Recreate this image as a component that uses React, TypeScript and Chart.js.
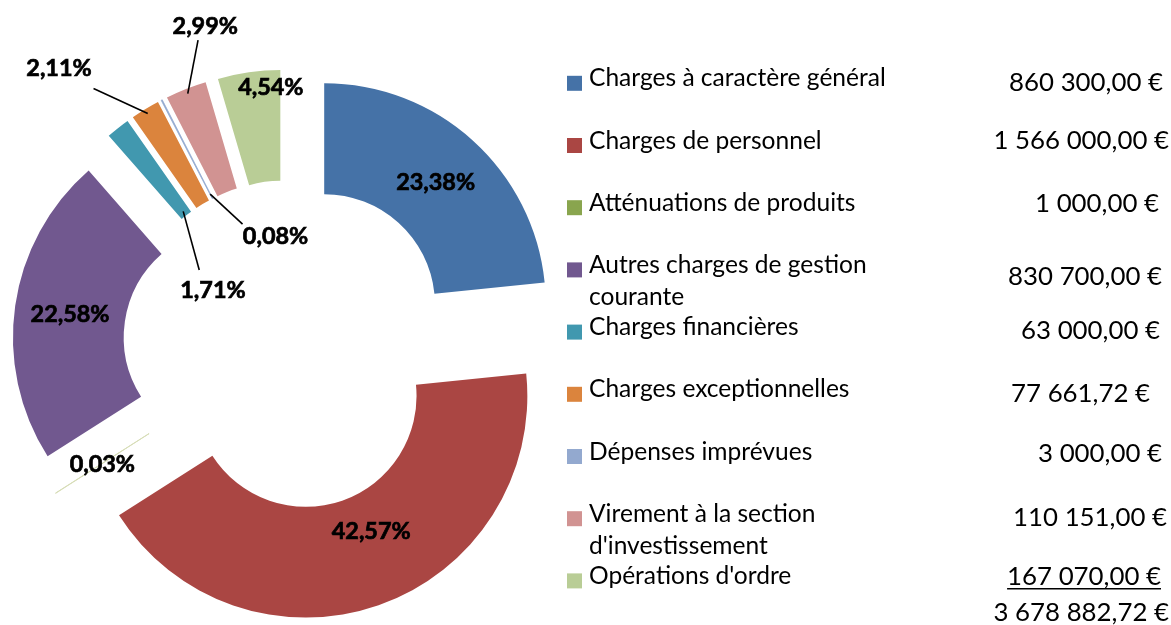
import React, { useEffect, useRef } from "react";
import { Chart, registerables } from "chart.js";

Chart.register(...registerables);

// ---------- data ----------
const categories = [
  "Charges à caractère général",
  "Charges de personnel",
  "Atténuations de produits",
  "Autres charges de gestion courante",
  "Charges financières",
  "Charges exceptionnelles",
  "Dépenses imprévues",
  "Virement à la section d'investissement",
  "Opérations d'ordre",
];
const legendLines = [
  ["Charges à caractère général"],
  ["Charges de personnel"],
  ["Atténuations de produits"],
  ["Autres charges de gestion", "courante"],
  ["Charges financières"],
  ["Charges exceptionnelles"],
  ["Dépenses imprévues"],
  ["Virement à la section", "d'investissement"],
  ["Opérations d'ordre"],
];
const amounts = [860300, 1566000, 1000, 830700, 63000, 77661.72, 3000, 110151, 167070];
const colors = [
  "#4572A7",
  "#AA4643",
  "#89A54E",
  "#71588F",
  "#4198AF",
  "#DB843D",
  "#93A9CF",
  "#D19392",
  "#B9CD96",
];

// ---------- layout / style ----------
const EXPLODE = 54;
const FONT = "Lato, 'Noto Sans', sans-serif";
// label placement: null = centre of the ring segment; otherwise polar from chart centre
const labelPlacement: any[] = [
  null,
  { r: 203, deg: 155.8 },
  null,
  null,
  { r: 93.6, deg: 306.7, edge: "inner", dx: -13.7, dy: -19 },
  { r: 360, deg: 320.5, edge: "outer", dx: 34.5, dy: 21.3 },
  { r: 110, deg: 353.5, edge: "inner", dx: -33, dy: -11.5 },
  { r: 330.5, deg: 345.5, edge: "outer", dx: -7.2, dy: 15 },
  { r: 259, deg: 356.2 },
];
const legendSquareX = 567;
const legendTextX = 589;
const legendFirstY = 77.3;
const legendRowStep = 62.2;
const legendLineStep = 32;
const amountRight = [1163, 1169, 1159, 1162, 1160, 1150, 1162, 1167, 1161];
const amountY = [81.7, 140, 203.3, 276, 330, 392.7, 453.3, 516.7, 576];
const totalRight = 1169;
const totalY = 611.7;

const total = amounts.reduce((a, b) => a + b, 0);

function fmtPct(v: number) {
  return ((v / total) * 100).toFixed(2).replace(".", ",") + "%";
}
function fmtEuro(v: number) {
  const [i, d] = v.toFixed(2).split(".");
  return i.replace(/\B(?=(\d{3})+(?!\d))/g, " ") + "," + d + " €";
}
function fitSize(ctx: CanvasRenderingContext2D, weight: string, text: string, targetW: number, targetH: number) {
  ctx.font = `${weight} 20px ${FONT}`;
  const m = ctx.measureText(text);
  const sw = (20 * targetW) / m.width;
  const sh = (20 * targetH) / ctx.measureText("0").actualBoundingBoxAscent;
  return Math.max(sw, sh);
}

const explodePlugin = {
  id: "explode",
  beforeDatasetDraw(chart: any, args: any) {
    const ctx = chart.ctx;
    args.meta.data.forEach((el: any) => {
      const mid = (el.startAngle + el.endAngle) / 2;
      ctx.save();
      ctx.translate(Math.cos(mid) * EXPLODE, Math.sin(mid) * EXPLODE);
      el.draw(ctx, chart.chartArea);
      ctx.restore();
    });
    return false;
  },
};

const labelPlugin = {
  id: "labels",
  afterDatasetsDraw(chart: any) {
    const ctx: CanvasRenderingContext2D = chart.ctx;
    const meta = chart.getDatasetMeta(0);
    const pctSize = fitSize(ctx, "bold", "23,38%", 79, 15.7);
    ctx.save();
    ctx.font = `bold ${pctSize}px ${FONT}`;
    const digitAsc = ctx.measureText("0").actualBoundingBoxAscent;
    ctx.fillStyle = "#000";
    ctx.strokeStyle = "#000";
    ctx.textAlign = "center";
    ctx.textBaseline = "alphabetic";
    meta.data.forEach((el: any, i: number) => {
      const mid = (el.startAngle + el.endAngle) / 2;
      const vx = el.x + Math.cos(mid) * EXPLODE;
      const vy = el.y + Math.sin(mid) * EXPLODE;
      const p = labelPlacement[i];
      let lx: number, ly: number;
      if (!p) {
        const rm = (el.innerRadius + el.outerRadius) / 2;
        lx = vx + Math.cos(mid) * rm;
        ly = vy + Math.sin(mid) * rm;
      } else {
        const a = (p.deg * Math.PI) / 180;
        lx = el.x + Math.sin(a) * p.r;
        ly = el.y - Math.cos(a) * p.r;
        if (p.edge) {
          const re = p.edge === "outer" ? el.outerRadius - 5 : el.innerRadius + 5;
          ctx.lineWidth = 1.6;
          ctx.beginPath();
          ctx.moveTo(vx + Math.cos(mid) * re, vy + Math.sin(mid) * re);
          ctx.lineTo(lx + p.dx, ly + p.dy);
          ctx.stroke();
        }
      }
      const txt = fmtPct(amounts[i]);
      ctx.fillText(txt, lx, ly + digitAsc / 2);
      ctx.lineWidth = 0.7;
      ctx.strokeText(txt, lx, ly + digitAsc / 2);
    });
    ctx.restore();
  },
  afterDraw(chart: any) {
    const ctx: CanvasRenderingContext2D = chart.ctx;
    ctx.font = `20px ${FONT}`;
    const legSize = (20 * 297) / ctx.measureText("Charges à caractère général").width;
    const amtSize = (20 * 154) / ctx.measureText("860 300,00 €").width;
    ctx.save();
    ctx.fillStyle = "#000";
    ctx.textBaseline = "alphabetic";
    ctx.font = `${legSize}px ${FONT}`;
    const capAsc = ctx.measureText("H").actualBoundingBoxAscent;
    legendLines.forEach((lines, i) => {
      const cy = legendFirstY + i * legendRowStep;
      ctx.fillStyle = colors[i];
      ctx.fillRect(legendSquareX, cy + 6 - 7.5, 15, 15);
      ctx.fillStyle = "#000";
      ctx.textAlign = "left";
      lines.forEach((t, j) => {
        ctx.fillText(t, legendTextX, cy + j * legendLineStep + capAsc / 2);
      });
    });
    ctx.font = `${amtSize}px ${FONT}`;
    const dAsc = ctx.measureText("0").actualBoundingBoxAscent;
    ctx.textAlign = "right";
    amounts.forEach((v, i) => {
      const txt = fmtEuro(v);
      ctx.fillText(txt, amountRight[i], amountY[i] + dAsc / 2);
      if (i === amounts.length - 1) {
        const w = ctx.measureText(txt).width;
        ctx.fillRect(amountRight[i] - w, amountY[i] + dAsc / 2 + 3, w, 1.5);
      }
    });
    ctx.fillText(fmtEuro(total), totalRight, totalY + dAsc / 2);
    ctx.restore();
  },
};

export default function App() {
  const ref = useRef<HTMLCanvasElement>(null);
  useEffect(() => {
    if (!ref.current) return;
    const tiny = amounts.map((v) => v / total < 0.001);
    const chart = new Chart(ref.current, {
      type: "doughnut",
      data: {
        labels: categories,
        datasets: [
          {
            data: amounts,
            backgroundColor: colors,
            borderColor: colors.map((c, i) => (i === 2 ? "#D8DDB8" : c)),
            borderWidth: tiny.map((t) => (t ? 0.8 : 0)),
          },
        ],
      },
      options: {
        responsive: false,
        animation: false,
        events: [],
        cutout: "50%",
        layout: { padding: { left: 66, top: 123, right: 661, bottom: 58 } },
        plugins: {
          legend: { display: false },
          tooltip: { enabled: false },
        },
      },
      plugins: [explodePlugin, labelPlugin],
    });
    return () => chart.destroy();
  }, []);
  return (
    <div style={{ position: "absolute", left: 0, top: 0, width: 1171, height: 625, background: "#fff" }}>
      <canvas ref={ref} width={1171} height={625} style={{ display: "block" }} />
    </div>
  );
}
